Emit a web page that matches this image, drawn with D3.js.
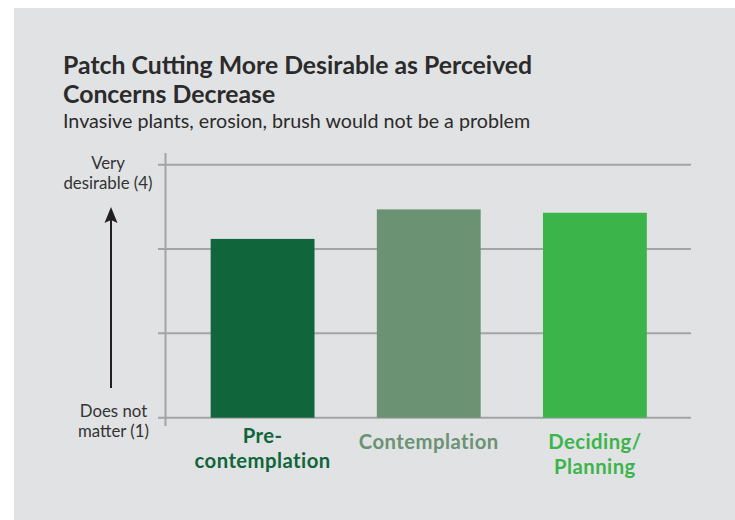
<!DOCTYPE html>
<html>
<head>
<meta charset="utf-8">
<script src="https://cdn.jsdelivr.net/npm/d3@7"></script>
<style>
  body { margin: 0; background: #fff; }
  text { font-family: Lato, "Open Sans", sans-serif; }
</style>
</head>
<body>
<script>
// chart values
const categories = ['Pre-contemplation', 'Contemplation', 'Deciding/Planning']
const labelLines = [['Pre-', 'contemplation'], ['Contemplation'], ['Deciding/', 'Planning']]
const values = [3.12, 3.47, 3.43]
const colors = ['#10663a', '#6a9273', '#3bb54a']
const gridValues = [1, 2, 3, 4]

const m = { width: 735, height: 520 }

const svg = d3.select('body').append('svg')
    .attr('width', m.width)
    .attr('height', m.height)

// grey panel
svg.append('rect')
    .attr('x', 14).attr('y', 8)
    .attr('width', m.width - 14).attr('height', m.height - 8)
    .attr('fill', '#e1e2e4')

const y = d3.scaleLinear().domain([1, 4]).range([417.7, 164.7])
const x = d3.scaleBand().domain(categories)
    .range([179.5, 678])
    .paddingInner(0.375)
    .paddingOuter(0.1875)

// gridlines
svg.selectAll('.grid')
    .data(gridValues)
    .enter()
    .append('line')
    .attr('x1', 158).attr('x2', 691)
    .attr('y1', d => y(d)).attr('y2', d => y(d))
    .attr('stroke', '#a3a4a6')
    .attr('stroke-width', 2)

// vertical axis line
svg.append('line')
    .attr('x1', 165.5).attr('x2', 165.5)
    .attr('y1', 153).attr('y2', 426)
    .attr('stroke', '#a3a4a6')
    .attr('stroke-width', 2)

// bars
svg.selectAll('.bar')
    .data(values)
    .enter()
    .append('rect')
    .attr('x', (d, i) => x(categories[i]))
    .attr('width', x.bandwidth())
    .attr('y', d => y(d))
    .attr('height', d => y(1) - y(d))
    .attr('fill', (d, i) => colors[i])

// category labels, one text per line
const labelTop = [443, 449, 449]
labelLines.forEach(function (lines, i) {
    const cx = x(categories[i]) + x.bandwidth() / 2
    lines.forEach(function (s, j) {
        svg.append('text')
            .attr('x', cx)
            .attr('y', labelTop[i] + j * 24.5)
            .attr('text-anchor', 'middle')
            .attr('fill', colors[i])
            .attr('font-size', 20.3)
            .attr('letter-spacing', 0.45)
            .attr('font-weight', 'bold')
            .text(s)
    })
})

// y end labels
function twoLines(cx, cy, lines) {
    lines.forEach(function (s, j) {
        svg.append('text')
            .attr('x', cx).attr('y', cy + j * 20.5)
            .attr('text-anchor', 'middle')
            .attr('fill', '#333')
            .attr('font-size', 16.8)
            .text(s)
    })
}
twoLines(108, 168.5, ['Very', 'desirable (4)'])
twoLines(113.5, 416.5, ['Does not', 'matter (1)'])

// arrow
svg.append('line')
    .attr('x1', 111).attr('x2', 111)
    .attr('y1', 388).attr('y2', 212)
    .attr('stroke', '#231f20')
    .attr('stroke-width', 2)
svg.append('path')
    .attr('d', 'M111,207 L117.5,223 L111,220 L104.5,223 Z')
    .attr('fill', '#231f20')

// title and subtitle
svg.append('text')
    .attr('x', 63).attr('y', 74)
    .attr('fill', '#2b2b2b')
    .attr('font-size', 24.8)
    .attr('font-weight', 'bold')
    .text('Patch Cutting More Desirable as Perceived')
svg.append('text')
    .attr('x', 63).attr('y', 103)
    .attr('fill', '#2b2b2b')
    .attr('font-size', 24.8)
    .attr('font-weight', 'bold')
    .text('Concerns Decrease')
svg.append('text')
    .attr('x', 63).attr('y', 128)
    .attr('fill', '#2b2b2b')
    .attr('font-size', 19.7)
    .text('Invasive plants, erosion, brush would not be a problem')
</script>
</body>
</html>
